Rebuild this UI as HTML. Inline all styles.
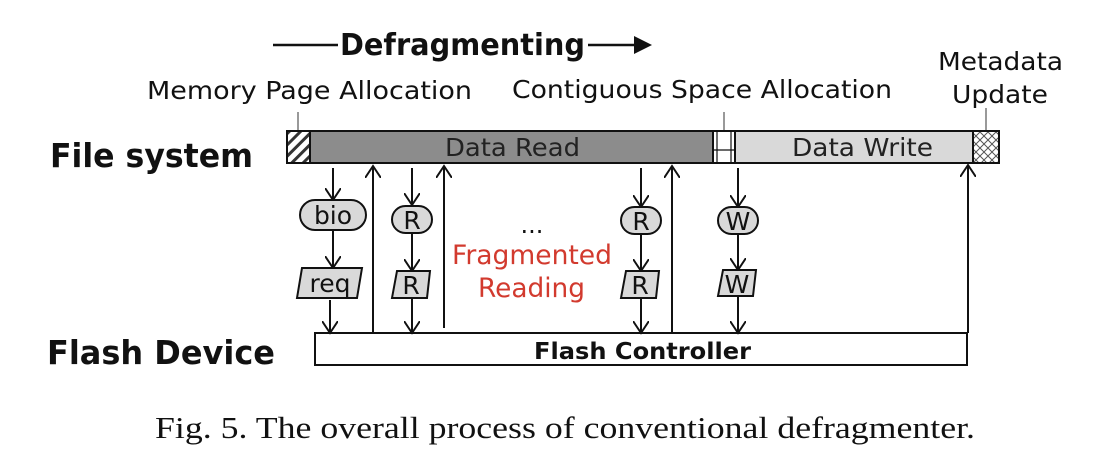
<!DOCTYPE html><html><head><style>body{margin:0;background:#fff}svg{display:block}</style></head><body>
<svg width="1097" height="455" xmlns="http://www.w3.org/2000/svg" font-family="'DejaVu Sans','Liberation Sans',sans-serif">
<defs>
<marker id="a" markerWidth="14" markerHeight="16" refX="12" refY="8" orient="auto" markerUnits="userSpaceOnUse"><path d="M0,0 L12,8 L0,16" fill="none" stroke="#111" stroke-width="2"/></marker>
<marker id="s" markerWidth="10" markerHeight="10" refX="9" refY="5" orient="auto" markerUnits="userSpaceOnUse"><path d="M0,0 L10,5 L0,10z" fill="#111"/></marker>
<pattern id="h" width="8" height="8" patternUnits="userSpaceOnUse" patternTransform="rotate(45)"><rect width="8" height="8" fill="#fff"/><rect width="3" height="8" fill="#333"/></pattern>
<pattern id="x" width="8" height="8" patternUnits="userSpaceOnUse"><rect width="8" height="8" fill="#fff"/><path d="M0,0L8,8M8,0L0,8" stroke="#555" stroke-width="1"/></pattern>
</defs>
<g stroke="#111" stroke-width="2.5"><line x1="273" y1="45" x2="338" y2="45"/><line x1="588" y1="45" x2="640" y2="45"/></g>
<path d="M634,36 L652,45 L634,54z" fill="#111"/>
<text x="340" y="55" font-size="30" font-weight="bold" textLength="245" lengthAdjust="spacingAndGlyphs" fill="#111">Defragmenting</text>
<g font-size="25" fill="#111">
<text x="147" y="99" textLength="325" lengthAdjust="spacingAndGlyphs">Memory Page Allocation</text>
<text x="512" y="98" textLength="380" lengthAdjust="spacingAndGlyphs">Contiguous Space Allocation</text>
<text x="938" y="70" textLength="125" lengthAdjust="spacingAndGlyphs">Metadata</text>
<text x="952" y="103" textLength="96" lengthAdjust="spacingAndGlyphs">Update</text>
</g>
<g stroke="#333" stroke-width="1"><line x1="298" y1="112" x2="298" y2="148" marker-end="url(#s)"/><line x1="724" y1="112" x2="724" y2="148" marker-end="url(#s)"/><line x1="986" y1="108" x2="986" y2="148" marker-end="url(#s)"/></g>
<text x="50" y="167" font-size="33" font-weight="bold" fill="#111" textLength="203" lengthAdjust="spacingAndGlyphs">File system</text>
<text x="47" y="364" font-size="33" font-weight="bold" fill="#111" textLength="228" lengthAdjust="spacingAndGlyphs">Flash Device</text>
<g stroke="#111" stroke-width="2">
<rect x="287" y="131" width="23" height="32" fill="url(#h)"/>
<rect x="310" y="131" width="403" height="32" fill="#8c8c8c"/>
<rect x="713" y="131" width="22" height="32" fill="#fff"/>
<rect x="735" y="131" width="238" height="32" fill="#d9d9d9"/>
<rect x="973" y="131" width="26" height="32" fill="url(#x)"/>
<rect x="315" y="333" width="652" height="32" fill="#fff"/>
</g>
<g stroke="#111" stroke-width="1.2"><line x1="717" y1="131" x2="717" y2="163"/><line x1="731" y1="131" x2="731" y2="163"/><line x1="713" y1="150" x2="735" y2="150"/></g>
<g font-size="25" fill="#222"><text x="445" y="156" textLength="135" lengthAdjust="spacingAndGlyphs">Data Read</text><text x="792" y="156" textLength="141" lengthAdjust="spacingAndGlyphs">Data Write</text></g>
<text x="534" y="359" font-size="23" font-weight="bold" fill="#111" textLength="217" lengthAdjust="spacingAndGlyphs">Flash Controller</text>
<g stroke="#111" stroke-width="2" fill="none" marker-end="url(#a)">
<line x1="333" y1="168" x2="333" y2="200"/><line x1="333" y1="230" x2="333" y2="268"/><line x1="330" y1="300" x2="330" y2="333"/>
<line x1="373" y1="332" x2="373" y2="166"/>
<line x1="412" y1="168" x2="412" y2="205"/><line x1="412" y1="233" x2="412" y2="271"/><line x1="412" y1="298" x2="412" y2="333"/>
<line x1="444" y1="328" x2="444" y2="166"/>
<line x1="641" y1="168" x2="641" y2="207"/><line x1="641" y1="234" x2="641" y2="271"/><line x1="641" y1="298" x2="641" y2="333"/>
<line x1="672" y1="332" x2="672" y2="166"/>
<line x1="738" y1="168" x2="738" y2="207"/><line x1="738" y1="234" x2="738" y2="270"/><line x1="738" y1="296" x2="738" y2="333"/>
<line x1="968" y1="333" x2="968" y2="165"/>
</g>
<g stroke="#111" stroke-width="2" fill="#d9d9d9">
<rect x="300" y="200" width="66" height="30" rx="15"/>
<rect x="392" y="206" width="40" height="27" rx="13.5"/>
<rect x="621" y="207" width="40" height="27" rx="13.5"/>
<rect x="718" y="207" width="40" height="27" rx="13.5"/>
<path d="M302,268 L362,268 L357,298 L297,298z"/>
<path d="M397,271 L430,271 L427,298 L392,298z"/>
<path d="M626,271 L659,271 L656,298 L621,298z"/>
<path d="M723,270 L756,270 L753,296 L718,296z"/>
</g>
<g font-size="25" fill="#111" text-anchor="middle">
<text x="333" y="224">bio</text><text x="330" y="292">req</text>
<text x="412" y="229">R</text><text x="411" y="294">R</text>
<text x="641" y="230">R</text><text x="640" y="294">R</text>
<text x="738" y="230">W</text><text x="737" y="293">W</text>
</g>
<text x="532" y="233" font-size="24" text-anchor="middle" fill="#111">...</text>
<g font-size="27" fill="#d23a2e"><text x="452" y="264" textLength="160" lengthAdjust="spacingAndGlyphs">Fragmented</text><text x="478" y="297" textLength="107" lengthAdjust="spacingAndGlyphs">Reading</text></g>
<text x="155" y="438" font-size="31" font-family="'Liberation Serif',serif" fill="#111" textLength="820" lengthAdjust="spacingAndGlyphs">Fig. 5.  The overall process of conventional defragmenter.</text>
</svg></body></html>
